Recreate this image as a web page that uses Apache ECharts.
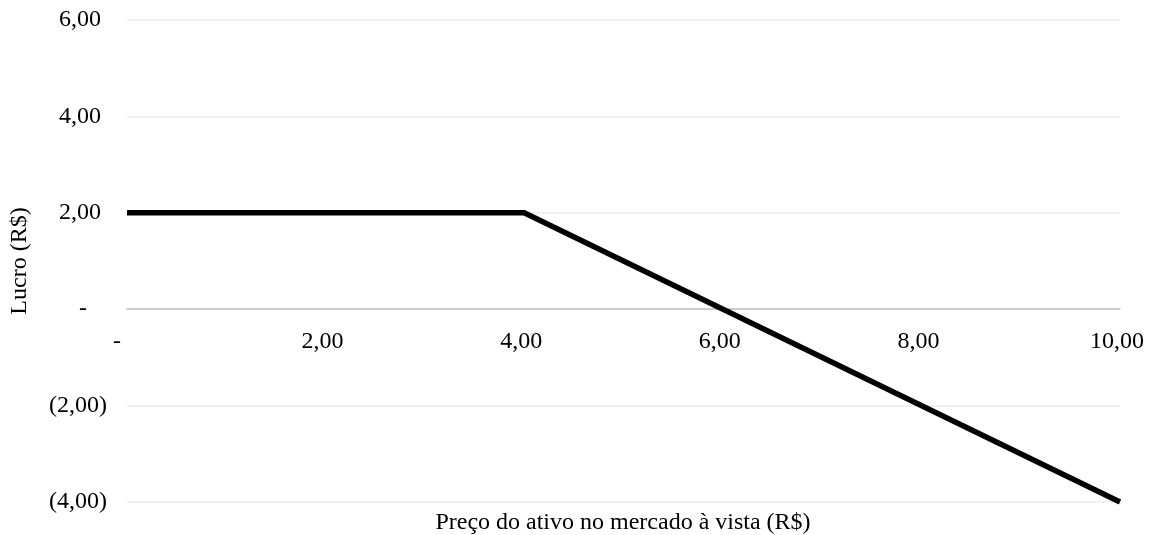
<!DOCTYPE html>
<html>
<head>
<meta charset="utf-8">
<title>Lucro x Preço do ativo</title>
<script src="https://cdn.jsdelivr.net/npm/echarts@6/dist/echarts.min.js"></script>
<style>
  html, body { margin: 0; padding: 0; background: #ffffff; }
  #chart { width: 1158px; height: 535px; }
</style>
</head>
<body>
<div id="chart"></div>
<script>
// Payoff points: spot price of the asset vs. profit
const prices = [0, 4, 10];
const profits = [2, 2, -4];

// Axis settings
const xTicks = { min: 0, max: 10, step: 2 };
const yTicks = { min: -4, max: 6, step: 2 };
const xName = 'Preço do ativo no mercado à vista (R$)';
const yName = 'Lucro (R$)';

const FONT = '"Liberation Serif", "Times New Roman", serif';
const FS = 24;

// Plot box
const W = 1158, H = 535;
const GRID = { left: 127, right: 38, top: 20, bottom: 33 };
const plotH = H - GRID.top - GRID.bottom;
// Shift the price axis up so it sits on the zero line of the profit axis
const xAxisOffset = -plotH * (0 - yTicks.min) / (yTicks.max - yTicks.min);

// Accounting-style number: 2,00 / (2,00) / -
function fmt(v) {
  if (Math.abs(v) < 1e-9) return '{v|-}{z|}';
  const s = Math.abs(v).toFixed(2).replace('.', ',');
  return v < 0 ? '{v|(' + s + ')}' : '{v|' + s + '}{p|}';
}

const rich = {
  v: { fontFamily: FONT, fontSize: FS, color: '#000' },
  p: { width: 6 },
  z: { width: 20 }
};

const chart = echarts.init(document.getElementById('chart'), null, { renderer: 'canvas' });

chart.setOption({
  animation: false,
  backgroundColor: '#ffffff',
  grid: Object.assign({ containLabel: false, outerBoundsMode: 'none' }, GRID),
  xAxis: {
    type: 'value',
    min: xTicks.min,
    max: xTicks.max,
    interval: xTicks.step,
    offset: xAxisOffset,
    axisLine: { onZero: false, lineStyle: { color: '#BFBFBF', width: 1.5 } },
    axisTick: { show: false },
    splitLine: { show: false },
    axisLabel: { formatter: fmt, rich: rich, margin: 21, fontFamily: FONT, fontSize: FS, color: '#000' }
  },
  yAxis: {
    type: 'value',
    min: yTicks.min,
    max: yTicks.max,
    interval: yTicks.step,
    name: yName,
    nameLocation: 'middle',
    nameGap: 95,
    nameTextStyle: { fontFamily: FONT, fontSize: FS, color: '#000' },
    axisLine: { show: false },
    axisTick: { show: false },
    splitLine: { lineStyle: { color: '#EEECE1', width: 1.5 } },
    axisLabel: { formatter: fmt, rich: rich, margin: 20, fontFamily: FONT, fontSize: FS, color: '#000' }
  },
  graphic: [{
    type: 'text',
    x: 623,
    y: 523,
    style: {
      text: xName, fontFamily: FONT, fontSize: FS, fill: '#000',
      align: 'center', verticalAlign: 'middle'
    }
  }],
  series: [{
    type: 'line',
    data: prices.map((p, i) => [p, profits[i]]),
    showSymbol: false,
    lineStyle: { color: '#000000', width: 5.5, join: 'miter' },
    z: 5
  }]
});
</script>
</body>
</html>
